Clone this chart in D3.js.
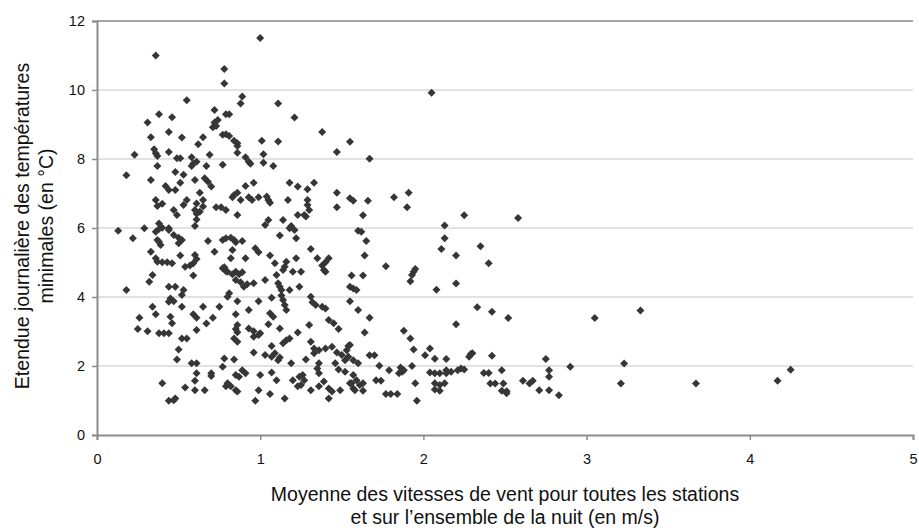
<!DOCTYPE html>
<html>
<head>
<meta charset="utf-8">
<script src="https://cdn.jsdelivr.net/npm/d3@7"></script>
<style>
  html, body { margin: 0; padding: 0; background: #fff; }
  svg { display: block; font-family: "Liberation Sans", Arial, sans-serif; }
</style>
</head>
<body>
<svg id="chart" width="919" height="531"></svg>
<script>
// Mean night wind speed (m/s) for each night
const windSpeed = [
  2.58,2.35,2.40,2.33,2.42,2.52,3.05,3.33,2.30,2.42,2.75,2.90,3.23,2.37,2.40,2.48,2.77,2.77,2.41,2.44,2.49,2.48,2.51,2.51,2.61,2.65,2.67,2.71,2.77,2.83,3.21,3.67,4.17,4.25,
  1.64,1.88,1.92,1.94,2.04,2.01,2.07,2.14,2.29,2.28,1.54,1.54,1.57,1.60,1.67,1.70,1.73,1.79,1.86,1.87,1.85,1.88,1.93,1.95,1.96,1.77,1.80,1.84,1.71,1.74,1.57,1.59,1.56,1.57,1.61,1.63,1.58,1.63,2.04,2.07,2.07,2.10,2.07,2.10,2.13,2.10,2.14,2.17,2.14,2.21,2.23,2.25,
  1.62,1.60,1.65,1.64,1.77,2.13,2.13,2.11,2.20,1.95,1.93,1.92,1.94,2.08,2.20,1.56,1.63,1.55,1.57,1.59,1.55,1.60,1.67,2.20,
  1.55,1.67,1.55,1.57,1.66,1.63,1.82,1.91,1.90,2.25,2.05,
  1.00,0.78,0.78,0.89,0.88,0.81,1.11,1.21,
  0.36,0.55,0.38,0.46,0.31,0.72,0.74,0.72,0.79,
  0.73,0.71,0.77,0.33,0.44,0.52,0.65,0.62,0.35,0.36,0.37,0.23,0.44,0.49,0.51,0.58,0.59,0.58,0.61,0.69,0.67,0.77,0.37,0.18,0.48,0.53,0.33,0.60,0.66,0.68,0.70,0.51,0.42,0.44,0.48,0.63,0.55,0.53,0.61,0.60,0.65,0.65,0.63,0.61,0.36,0.37,0.40,0.47,0.49,0.73,0.76,0.79,0.13,0.29,0.38,0.44,0.61,0.60,
  1.38,0.79,0.81,0.84,0.86,0.86,1.01,1.11,0.86,0.91,0.93,0.94,1.02,1.02,1.08,1.47,0.91,0.96,0.86,0.84,0.88,0.83,0.93,0.95,0.99,1.04,1.05,1.06,1.17,1.18,1.23,1.29,1.33,1.29,1.29,1.30,1.27,1.28,1.23,1.47,1.47,0.86,1.05,1.03,1.14,1.19,
  0.22,0.36,0.38,0.40,0.37,0.39,0.38,0.44,0.47,0.50,0.52,0.50,0.68,0.77,0.72,0.33,0.36,0.37,0.40,0.43,0.46,0.51,0.60,0.61,0.59,0.57,0.54,0.59,0.77,0.79,0.34,0.32,0.18,0.44,0.48,0.53,0.52,0.45,0.47,0.44,0.52,0.65,0.75,0.34,0.26,0.36,0.45,0.46,0.59,0.61,0.67,0.71,0.25,0.31,0.38,0.41,0.44,
  1.18,1.21,1.12,1.22,0.79,0.82,0.84,0.85,0.89,0.83,0.97,0.99,1.06,1.09,1.16,1.15,1.14,1.22,1.31,1.35,1.42,1.40,1.38,1.39,1.40,0.82,0.91,0.78,0.80,0.83,0.85,0.87,0.89,0.85,0.88,0.90,0.92,0.96,1.03,1.10,1.11,1.12,1.13,1.18,1.20,1.25,1.24,0.81,0.80,0.86,0.93,0.99,1.07,1.13,1.14,1.15,1.16,1.31,1.32,1.34,1.38,1.40,0.85,1.06,1.08,1.05,0.86,0.85,0.86,0.93,0.96,1.00,1.12,1.30,1.42,1.45,1.48,
  0.61,0.52,0.55,0.50,0.49,0.58,0.61,0.61,0.60,0.40,0.54,0.60,0.66,0.70,0.70,0.77,0.78,0.79,0.44,0.48,0.47,
  0.86,0.84,0.96,0.99,1.23,1.16,1.14,1.18,1.07,1.09,1.07,1.12,1.11,0.96,1.03,0.84,1.19,1.28,1.31,1.33,1.33,1.36,1.40,1.44,1.47,1.50,1.53,1.52,1.55,1.36,1.35,1.36,1.46,1.48,1.52,0.89,0.91,0.87,0.85,0.80,0.82,0.85,0.86,1.00,1.07,1.10,0.99,1.06,0.97,1.15,1.20,1.24,1.26,1.27,1.25,1.23,1.31,1.36,1.39,1.42,1.44,1.42,1.49,1.55
];

// Daily range of minimum temperatures (°C), same order as windSpeed
const tempRange = [
  6.29,5.47,4.98,3.70,3.57,3.39,3.39,3.61,2.37,2.30,2.20,1.98,2.07,1.80,1.80,1.88,1.88,1.69,1.49,1.49,1.49,1.28,1.27,1.21,1.57,1.49,1.57,1.30,1.30,1.15,1.49,1.49,1.57,1.89,
  2.97,3.02,2.80,2.48,2.51,2.31,2.21,2.20,2.35,2.27,2.58,2.27,2.17,2.08,2.31,2.31,2.01,1.88,1.96,1.83,1.79,1.88,2.00,1.50,0.99,1.19,1.19,1.19,1.59,1.57,1.74,1.59,1.50,1.35,1.45,1.50,1.30,1.28,1.81,1.79,1.50,1.79,1.32,1.45,1.50,1.28,1.88,1.83,1.79,1.88,1.93,1.90,
  5.89,5.92,5.62,5.20,4.89,6.07,5.70,5.39,5.20,4.81,4.64,4.46,4.73,4.21,4.39,4.62,4.62,4.30,4.25,4.20,3.88,3.62,3.40,3.21,
  8.50,8.01,6.86,6.79,6.79,6.37,6.89,7.02,6.60,6.37,9.92,
  11.51,10.61,10.19,9.81,9.61,9.30,9.61,9.20,
  11.00,9.70,9.30,9.21,9.06,9.42,9.13,9.06,9.30,
  8.96,8.92,8.70,8.63,8.78,8.62,8.63,8.43,8.28,8.17,8.09,8.12,8.20,8.02,8.02,8.05,7.87,7.80,7.92,8.12,7.80,7.83,7.80,7.53,7.62,7.54,7.39,7.39,7.44,7.34,7.20,7.31,7.22,7.10,7.10,7.02,6.81,6.67,6.71,6.52,6.81,6.62,6.47,6.41,6.81,6.64,6.70,6.52,6.38,6.60,6.60,6.52,5.92,5.99,6.13,5.99,6.25,6.06,
  8.78,8.72,8.67,8.53,8.46,8.38,8.53,8.51,8.18,8.05,7.92,7.86,8.14,7.89,7.80,8.20,7.22,7.31,7.02,6.96,6.81,6.89,6.89,6.81,6.89,6.91,6.81,6.73,6.81,7.31,7.20,7.12,7.31,6.81,6.67,6.52,6.38,6.33,6.38,7.02,6.60,6.38,6.23,6.09,6.23,6.06,
  5.70,5.89,5.97,6.01,5.65,5.51,5.60,5.94,5.80,5.72,5.65,5.56,5.62,5.65,5.31,5.31,5.12,5.02,5.01,5.01,4.98,5.20,5.22,5.10,4.98,4.91,4.88,4.62,4.83,4.75,4.64,4.44,4.20,4.30,4.30,4.20,4.06,3.96,3.88,3.86,3.72,3.72,3.72,3.72,3.40,3.50,3.43,3.24,3.50,3.40,3.23,3.40,3.07,3.01,2.95,2.95,2.95,
  5.99,5.94,5.78,5.70,5.70,5.72,5.65,5.59,5.62,5.36,5.41,5.30,5.20,4.98,5.02,4.88,4.78,5.12,5.39,5.12,5.12,5.01,4.91,4.78,4.73,5.12,5.12,4.86,4.73,4.66,4.73,4.66,4.72,4.49,4.43,4.30,4.37,4.40,4.49,4.64,4.40,4.30,4.20,4.20,4.73,4.73,4.30,4.11,4.01,3.88,3.62,3.88,3.98,4.04,3.91,3.77,3.62,4.01,3.85,3.77,3.72,3.67,3.50,3.53,3.43,3.21,3.19,3.07,2.98,3.09,3.01,2.95,3.09,3.19,3.33,3.24,3.07,
  3.04,2.80,2.80,2.48,2.19,2.08,2.08,1.79,1.57,1.50,1.38,1.30,1.30,1.79,1.71,1.98,2.22,1.41,0.99,1.06,1.01,
  2.70,2.80,2.85,2.90,2.97,2.75,2.66,2.80,2.58,2.37,2.27,2.25,2.17,2.39,2.32,2.19,2.08,2.19,2.70,2.51,2.37,2.46,2.51,2.56,2.39,2.32,2.46,2.17,2.61,2.08,1.93,1.79,2.08,1.90,1.83,1.88,1.79,1.69,1.74,1.50,1.41,1.30,1.26,1.74,1.81,1.59,1.30,1.19,0.99,1.06,1.59,1.69,1.74,1.59,1.45,1.41,1.30,1.41,1.55,1.35,1.26,1.06,1.30,1.50
];

const xTicks = [0, 1, 2, 3, 4, 5];
const yTicks = [0, 2, 4, 6, 8, 10, 12];
const xTitle = ["Moyenne des vitesses de vent pour toutes les stations",
                "et sur l\u2019ensemble de la nuit (en m/s)"];
const yTitle = ["Etendue journalière des températures",
                "minimales (en °C)"];

const points = windSpeed.map((w, i) => ({ wind: w, range: tempRange[i] }));

const svg = d3.select("#chart");
const margin = { left: 97, top: 21, right: 6, bottom: 96 };
const W = 919, H = 531;
const iw = W - margin.left - margin.right;
const ih = H - margin.top - margin.bottom;

const x = d3.scaleLinear().domain([0, 5]).range([0, iw]);
const y = d3.scaleLinear().domain([0, 12]).range([ih, 0]);

const g = svg.append("g").attr("transform", `translate(${margin.left},${margin.top})`);

// horizontal gridlines
g.append("g")
  .selectAll("line")
  .data(yTicks.filter(t => t > 0))
  .join("line")
  .attr("x1", 0).attr("x2", iw)
  .attr("y1", d => y(d)).attr("y2", d => y(d))
  .attr("stroke", d => d === 12 ? "#a6a6a6" : "#d9d9d9")
  .attr("stroke-width", d => d === 12 ? 2 : 1.5);

// axes
const xAxis = g.append("g")
  .attr("transform", `translate(0,${ih})`)
  .call(d3.axisBottom(x).tickValues(xTicks).tickFormat(d3.format("d")).tickSize(5).tickPadding(14));
const yAxis = g.append("g")
  .call(d3.axisLeft(y).tickValues(yTicks).tickFormat(d3.format("d")).tickSize(5).tickPadding(7));

[xAxis, yAxis].forEach(a => {
  a.select(".domain").attr("stroke", "#8c8c8c").attr("stroke-width", 2);
  a.selectAll(".tick line").attr("stroke", "#8c8c8c").attr("stroke-width", 1.5);
  a.selectAll(".tick text")
    .attr("fill", "#111")
    .style("font-size", "14.5px")
    .style("font-family", "'Liberation Sans', Arial, sans-serif");
});

// data markers: dark diamonds
const diamond = d3.symbol().type(d3.symbolSquare).size(32);
g.append("g")
  .selectAll("path")
  .data(points)
  .join("path")
  .attr("d", diamond)
  .attr("transform", d => `translate(${x(d.wind)},${y(d.range)}) rotate(45)`)
  .attr("fill", "#363636");

// axis titles
svg.append("text")
  .attr("text-anchor", "middle")
  .style("font-size", "19.5px")
  .attr("fill", "#111")
  .selectAll("tspan")
  .data(xTitle)
  .join("tspan")
  .attr("x", 505)
  .attr("y", (d, i) => 501 + i * 23)
  .text(d => d);

svg.append("text")
  .attr("transform", `translate(0,226) rotate(-90)`)
  .attr("text-anchor", "middle")
  .style("font-size", "19.5px")
  .attr("fill", "#111")
  .selectAll("tspan")
  .data(yTitle)
  .join("tspan")
  .attr("x", 0)
  .attr("y", (d, i) => 29 + i * 24)
  .text(d => d);
</script>
</body>
</html>
